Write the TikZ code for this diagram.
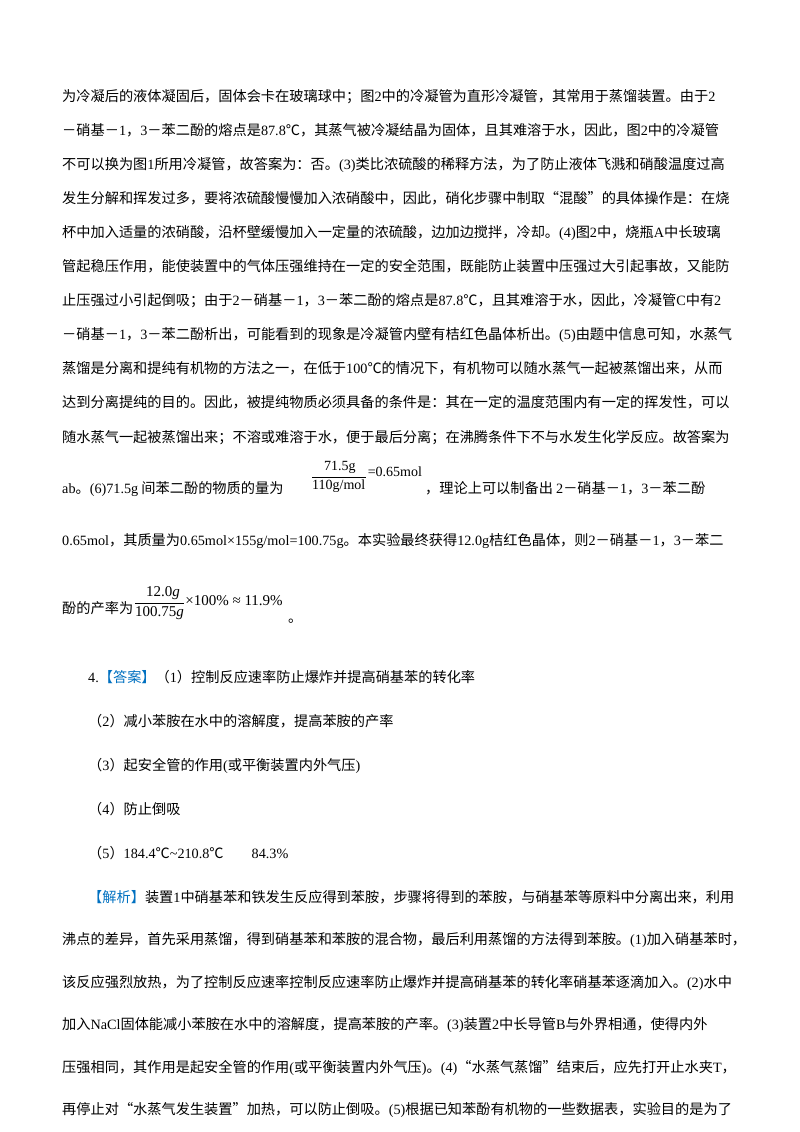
\documentclass[tikz,border=0pt]{standalone}
\usepackage{fontspec}
\setmainfont{Noto Sans CJK SC}
\newfontfamily\latf{Liberation Serif}
\newcommand\lat[1]{{\latf #1}}
\XeTeXlinebreaklocale "zh"
\XeTeXlinebreakskip=0pt plus 2pt
\newcommand\jl[1]{\hbox to 678pt{#1}}
\definecolor{ansblue}{RGB}{0,112,192}
\begin{document}
\begin{tikzpicture}[x=1pt,y=-1pt,
  tx/.style={anchor=base west,inner sep=0pt,font=\fontsize{14.2}{16}\selectfont},
  mt/.style={anchor=base west,inner sep=0pt,font=\fontsize{14}{16}\latf},
  mb/.style={anchor=base west,inner sep=0pt,font=\fontsize{15}{17}\latf}]
\useasboundingbox (0,0) rectangle (800,1132);
\node[tx] (l1) at (62,101) {\jl{为冷凝后的液体凝固后，固体会卡在玻璃球中；图\lat{2}中的冷凝管为直形冷凝管，其常用于蒸馏装置。由于\lat{2}}};
\node[tx] (l2) at (62,135.1) {\jl{－硝基－\lat{1}，\lat{3}－苯二酚的熔点是\lat{87.8}℃，其蒸气被冷凝结晶为固体，且其难溶于水，因此，图\lat{2}中的冷凝管}};
\node[tx] (l3) at (62,169.2) {\jl{不可以换为图\lat{1}所用冷凝管，故答案为：否。\lat{(3)}类比浓硫酸的稀释方法，为了防止液体飞溅和硝酸温度过高}};
\node[tx] (l4) at (62,203.3) {\jl{发生分解和挥发过多，要将浓硫酸慢慢加入浓硝酸中，因此，硝化步骤中制取“混酸”的具体操作是：在烧}};
\node[tx] (l5) at (62,237.4) {\jl{杯中加入适量的浓硝酸，沿杯壁缓慢加入一定量的浓硫酸，边加边搅拌，冷却。\lat{(4)}图\lat{2}中，烧瓶\lat{A}中长玻璃}};
\node[tx] (l6) at (62,271.5) {\jl{管起稳压作用，能使装置中的气体压强维持在一定的安全范围，既能防止装置中压强过大引起事故，又能防}};
\node[tx] (l7) at (62,305.6) {\jl{止压强过小引起倒吸；由于\lat{2}－硝基－\lat{1}，\lat{3}－苯二酚的熔点是\lat{87.8}℃，且其难溶于水，因此，冷凝管\lat{C}中有\lat{2}}};
\node[tx] (l8) at (62,339.7) {\jl{－硝基－\lat{1}，\lat{3}－苯二酚析出，可能看到的现象是冷凝管内壁有桔红色晶体析出。\lat{(5)}由题中信息可知，水蒸气}};
\node[tx] (l9) at (62,373.8) {\jl{蒸馏是分离和提纯有机物的方法之一，在低于\lat{100}℃的情况下，有机物可以随水蒸气一起被蒸馏出来，从而}};
\node[tx] (l10) at (62,407.9) {\jl{达到分离提纯的目的。因此，被提纯物质必须具备的条件是：其在一定的温度范围内有一定的挥发性，可以}};
\node[tx] (l11) at (62,442) {\jl{随水蒸气一起被蒸馏出来；不溶或难溶于水，便于最后分离；在沸腾条件下不与水发生化学反应。故答案为}};
% (6) line
\node[tx] (l12) at (62,493) {\lat{ab}。\lat{(6)71.5g} 间苯二酚的物质的量为};
\node[mt] (f1n) at (324,470) {71.5g};
\node[mt] (f1d) at (312,489) {110g/mol};
\draw[line width=0.5pt] (f1d.west|-f1n.south) ++(0,4) coordinate (f1a) -- (f1a-|f1d.east);
\node[mt] (f1r) at ([xshift=2pt]f1d.east|-0,476) {=0.65mol};
\node[tx] (l12b) at (425,493) {，理论上可以制备出 \lat{2}－硝基－\lat{1}，\lat{3}－苯二酚};
\node[tx] (l13) at (62,545) {\jl{\lat{0.65mol}，其质量为\lat{0.65mol×155g/mol=100.75g}。本实验最终获得\lat{12.0g}桔红色晶体，则\lat{2}－硝基－\lat{1}，\lat{3}－苯二}};
\node[tx] (l14) at (62,613) {酚的产率为};
\node[mb] (f2n) at (146,596) {12.0\textit{g}};
\node[mb] (f2d) at (135,616) {100.75\textit{g}};
\draw[line width=0.5pt] (f2d.west|-f2n.south) ++(0,4) coordinate (f2a) -- (f2a-|f2d.east);
\node[mb] (f2r) at ([xshift=1pt]f2d.east|-0,605) {×100\% ≈ 11.9\%};
\node[tx] (f2p) at (288,622) {。};
% answers
\node[tx] (a1) at (88,682) {\lat{4.}\textcolor{ansblue}{【答案】}（\lat{1}）控制反应速率防止爆炸并提高硝基苯的转化率};
\node[tx] (a2) at (88,726) {（\lat{2}）减小苯胺在水中的溶解度，提高苯胺的产率};
\node[tx] (a3) at (88,770) {（\lat{3}）起安全管的作用\lat{(}或平衡装置内外气压\lat{)}};
\node[tx] (a4) at (88,814) {（\lat{4}）防止倒吸};
\node[tx] (a5) at (88,858) {（\lat{5}）\lat{184.4}℃\lat{\char126 210.8}℃\hspace{28pt}\lat{84.3\%}};
% analysis
\node[tx] (b1) at (88,902) {\hbox to 652pt{\textcolor{ansblue}{【解析】}装置\lat{1}中硝基苯和铁发生反应得到苯胺，步骤将得到的苯胺，与硝基苯等原料中分离出来，利用}};
\node[tx] (b2) at (62,944) {\jl{沸点的差异，首先采用蒸馏，得到硝基苯和苯胺的混合物，最后利用蒸馏的方法得到苯胺。\lat{(1)}加入硝基苯时，}};
\node[tx] (b3) at (62,987) {\jl{该反应强烈放热，为了控制反应速率控制反应速率防止爆炸并提高硝基苯的转化率硝基苯逐滴加入。\lat{(2)}水中}};
\node[tx] (b4) at (62,1029) {\jl{加入\lat{NaCl}固体能减小苯胺在水中的溶解度，提高苯胺的产率。\lat{(3)}装置\lat{2}中长导管\lat{B}与外界相通，使得内外}};
\node[tx] (b5) at (62,1072) {\jl{压强相同，其作用是起安全管的作用\lat{(}或平衡装置内外气压\lat{)}。\lat{(4)}“水蒸气蒸馏”结束后，应先打开止水夹\lat{T}，}};
\node[tx] (b6) at (62,1114) {\jl{再停止对“水蒸气发生装置”加热，可以防止倒吸。\lat{(5)}根据已知苯酚有机物的一些数据表，实验目的是为了}};
\end{tikzpicture}
\end{document}
